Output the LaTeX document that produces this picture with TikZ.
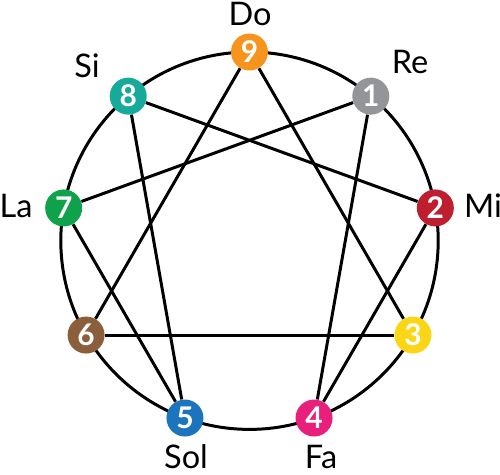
\documentclass[tikz,border=0pt]{standalone}
\usepackage{fontspec}
\setmainfont{Lato}
\usepackage{tikz}

\definecolor{cone}{HTML}{939598}
\definecolor{ctwo}{HTML}{BE1E2D}
\definecolor{cthree}{HTML}{FBD616}
\definecolor{cfour}{HTML}{E8207C}
\definecolor{cfive}{HTML}{1C75BC}
\definecolor{csix}{HTML}{8B5E3C}
\definecolor{cseven}{HTML}{10A24B}
\definecolor{ceight}{HTML}{17A99B}
\definecolor{cnine}{HTML}{F7941D}

\tikzset{
    point/.style={circle, minimum size=0.74cm, inner sep=0pt, text=white,
        font=\fontsize{17}{17}\selectfont\bfseries},
    note/.style={font=\fontsize{18.5}{18.5}\selectfont, inner sep=0pt, anchor=base},
    chord/.style={line width=1.7pt}
}

\begin{document}
\begin{tikzpicture}[x=0.02cm, y=0.02cm]

    % constants
    \def\cx{249.5}
    \def\cy{233.3}
    \def\rad{188.7}

    \useasboundingbox (0,0) rectangle (500,474);

    \coordinate (c) at (\cx,\cy);
    \draw [chord] (c) circle (\rad);

    % the nine points
    \foreach \n/\col in {1/cone,2/ctwo,3/cthree,4/cfour,5/cfive,6/csix,7/cseven,8/ceight,9/cnine}
        \node [point, fill=\col] (n\n) at ([shift={({90-40*\n}:\rad)}]c) {\n};

    % triangle and hexad
    \foreach \a/\b in {9/3,3/6,6/9,1/4,4/2,2/8,8/5,5/7,7/1}
        \draw [chord] (n\a) -- (n\b);

    % note names (placed on their baselines)
    \node [note] (do) at (250,448) {Do};
    \node [note] (re) at (410,400) {Re};
    \node [note] (mi) at (483,257) {Mi};
    \node [note] (fa) at (321,6) {Fa};
    \node [note] (sol) at (186,6) {Sol};
    \node [note] (la) at (16,257) {La};
    \node [note] (si) at (87,396) {Si};

\end{tikzpicture}
\end{document}
